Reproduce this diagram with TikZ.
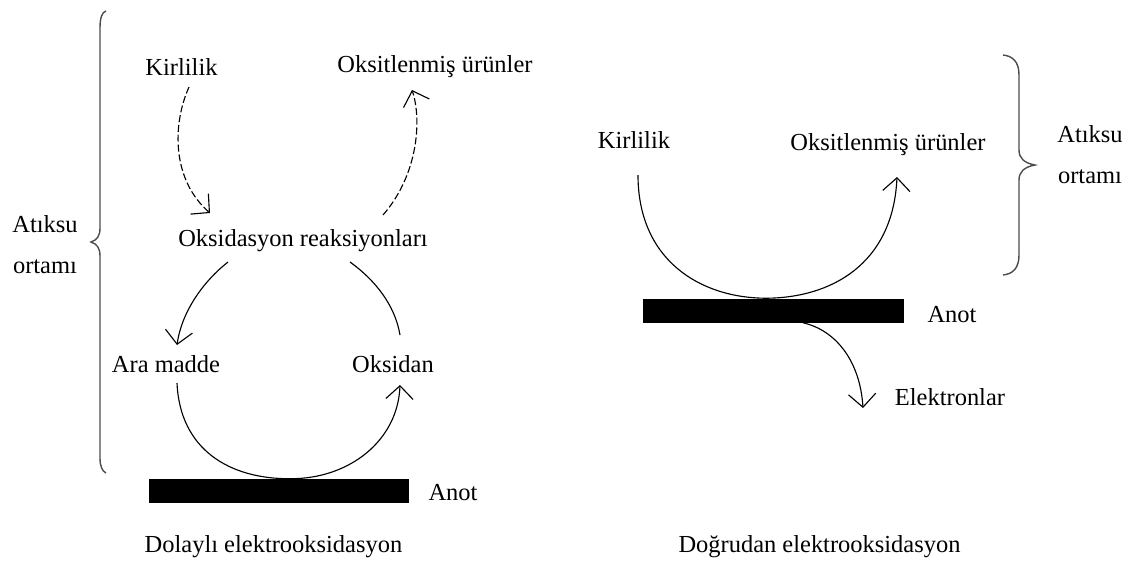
\documentclass[tikz,border=0pt]{standalone}
\usepackage{fontspec}
\setmainfont{Liberation Serif}
\usetikzlibrary{arrows.meta,calc}

\begin{document}
\begin{tikzpicture}[x=0.025cm, y=-0.025cm, font=\fontsize{17.4}{21}\selectfont]

    % Styles for labels, flows and the electrodes
    \tikzset{lbl/.style={inner sep=1pt, anchor=base, align=center}}
    \tikzset{flow/.style={line width=0.8pt, -{Straight Barb[length=3.3mm, width=6.8mm]}}}
    \tikzset{dflow/.style={flow, dash pattern=on 5pt off 2pt}}
    \tikzset{anode/.style={fill=black, inner sep=0pt, minimum width=6.5cm, minimum height=0.6cm}}
    \tikzset{brc/.style={line width=1pt, black!70}}

    % Line spacing of the two-line labels
    \def\twolines{\fontsize{17.4}{29}\selectfont}

    \useasboundingbox (0,0) rectangle (1132,568);

    % --- Left: indirect electrooxidation ---
    \node[lbl] (kirL) at (181.5,75) {Kirlilik};
    \node[lbl] (oksL) at (435,72) {Oksitlenmiş ürünler};
    \node[lbl] (reac) at (303,246) {Oksidasyon reaksiyonları};
    \node[lbl] (ara) at (166,372) {Ara madde};
    \node[lbl] (oksidan) at (393,372) {Oksidan};
    \node[anode] (barL) at (279,491) {};
    \node[lbl] (anotL) at (453,500) {Anot};
    \node[lbl] (dolayli) at (273.5,552) {Dolaylı elektrooksidasyon};
    \node[lbl, font=\twolines] (ortamL) at (45,273) {Atıksu\\ortamı};

    \draw[dflow] ($(kirL.base)+(7.5,12)$) .. controls (172,125) and (172,180) .. ($(reac.base)+(-93,-33)$);
    \draw[dflow] ($(reac.base)+(80,-31)$) .. controls (418,175) and (422,120) .. ($(oksL.base)+(-23,18)$);
    \draw[flow] ($(reac.base)+(-75,16)$) .. controls (205,280) and (182,310) .. ($(ara.base)+(11,-27)$);
    \draw[flow] ($(ara.base)+(11,11)$) .. controls (180,450) and (230,479) .. ($(barL.north)+(11,0)$)
      .. controls (350,479) and (398,440) .. ($(oksidan.base)+(7,13)$);
    \draw[line width=0.8pt] ($(oksidan.base)+(7,-37)$) .. controls (395,305) and (375,280) .. ($(reac.base)+(47,16)$);

    % left brace
    \draw[brc] (106,11) .. controls (102,12) and (100,18) .. (100,28) -- (100,228)
      .. controls (100,236) and (97,240) .. (91,242) .. controls (97,244) and (100,248) .. (100,256)
      -- (100,458) .. controls (100,466) and (102,471) .. (106,473);

    % --- Right: direct electrooxidation ---
    \node[lbl] (kirR) at (634,148) {Kirlilik};
    \node[lbl] (oksR) at (888,150) {Oksitlenmiş ürünler};
    \node[anode] (barR) at (773.5,310.5) {};
    \node[lbl] (anotR) at (952,322) {Anot};
    \node[lbl] (elek) at (950,405) {Elektronlar};
    \node[lbl] (dogru) at (819.5,552) {Doğrudan elektrooksidasyon};
    \node[lbl, font=\twolines] (ortamR) at (1090,183) {Atıksu\\ortamı};

    \draw[flow] ($(kirR.base)+(4,27)$) .. controls (638,260) and (700,298) .. ($(barR.north)+(-7.5,0)$)
      .. controls (830,298) and (893,265) .. ($(oksR.base)+(9,27)$);
    \draw[flow] ($(barR.south)+(29.5,0)$) .. controls (835,330) and (860,360) .. ($(elek.base)+(-87,3)$);

    % right brace
    \draw[brc] (1003,55) .. controls (1013,56) and (1019,62) .. (1019,75) -- (1019,150)
      .. controls (1019,158) and (1024,163) .. (1035,165) .. controls (1024,167) and (1019,172) .. (1019,180)
      -- (1019,255) .. controls (1019,268) and (1013,274) .. (1003,275);
\end{tikzpicture}
\end{document}
